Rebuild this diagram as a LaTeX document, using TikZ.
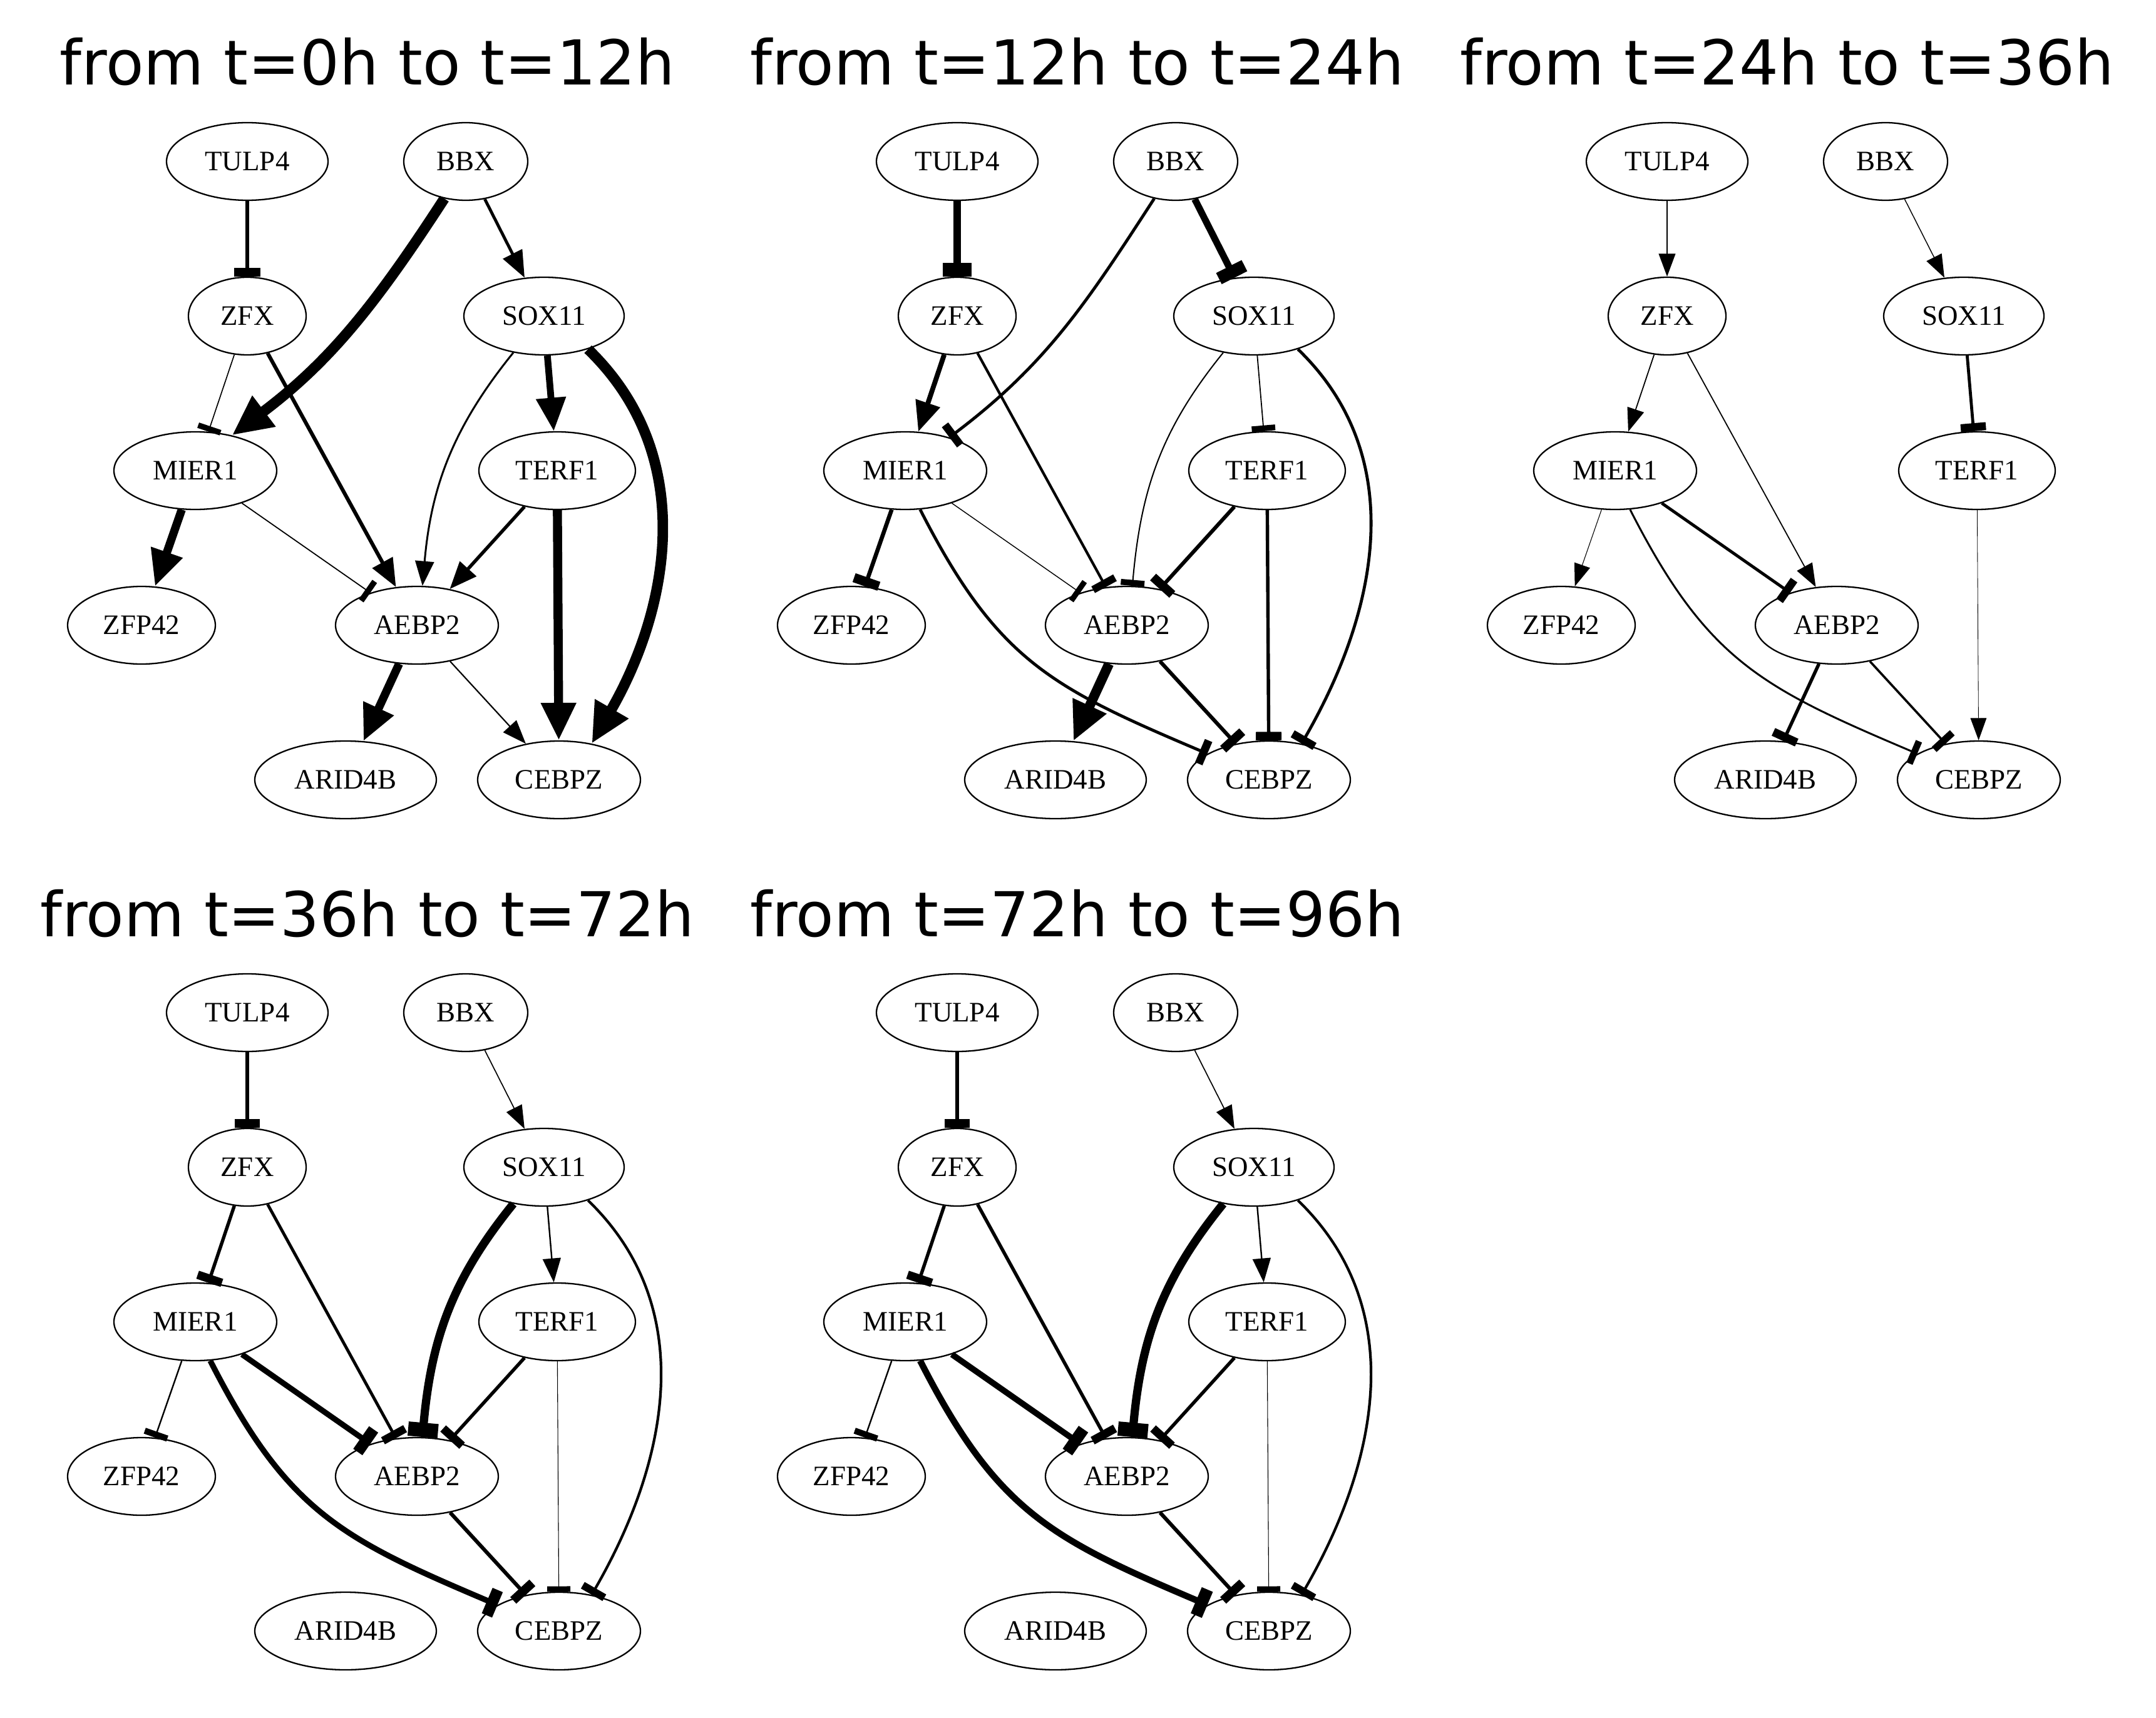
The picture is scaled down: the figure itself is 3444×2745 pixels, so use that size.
\documentclass[tikz,border=0pt]{standalone}
\usepackage{fontspec}
\setmainfont{Liberation Serif}
\newfontfamily\titlefont{DejaVu Sans}
\usetikzlibrary{shapes.geometric,arrows.meta}
\tikzset{
  gn/.style={ellipse, draw, line width=1.15pt, inner sep=0pt, minimum height=62pt,
             font=\fontsize{22.5pt}{24pt}\selectfont},
  ttl/.style={anchor=base, inner sep=0pt, font=\titlefont\fontsize{49.5pt}{56pt}\selectfont},
  actv/.style={line width=#1*0.6pt, -{Triangle[length=17pt 1.8, width=12pt 2]}},
  inhb/.style={line width=#1*0.6pt, -{Rectangle[length=3.5pt 1.2, width=18pt 0.9]}},
  mc/.style={looseness=1.15},
}
\newcommand\gpanel[3]{%
\begin{scope}[shift={(#2,#3)}]
\node[gn,minimum width=129pt] (#1tu) at (395,-258) {TULP4};
\node[gn,minimum width=99pt]  (#1bb) at (744,-258) {BBX};
\node[gn,minimum width=94pt]  (#1zf) at (395,-505) {ZFX};
\node[gn,minimum width=128pt] (#1so) at (869,-505) {SOX11};
\node[gn,minimum width=130pt] (#1mi) at (312,-752) {MIER1};
\node[gn,minimum width=125pt] (#1te) at (890,-752) {TERF1};
\node[gn,minimum width=118pt] (#1zp) at (226,-999) {ZFP42};
\node[gn,minimum width=130pt] (#1ae) at (666,-999) {AEBP2};
\node[gn,minimum width=145pt] (#1ar) at (552,-1246) {ARID4B};
\node[gn,minimum width=130pt] (#1ce) at (893,-1246) {CEBPZ};
\end{scope}}
\begin{document}
\begin{tikzpicture}[x=0.5pt,y=0.5pt]
\fill[white] (0,0) rectangle (3444,-2745);
\useasboundingbox (0,0) rectangle (3444,-2745);

% titles
\node[ttl] (t1) at (587,-136) {from t=0h to t=12h};
\node[ttl] (t2) at (1721,-136) {from t=12h to t=24h};
\node[ttl] (t3) at (2855,-136) {from t=24h to t=36h};
\node[ttl] (t4) at (587,-1496) {from t=36h to t=72h};
\node[ttl] (t5) at (1721,-1496) {from t=72h to t=96h};

% nodes
\gpanel{a}{0}{0}
\gpanel{b}{1134}{0}
\gpanel{c}{2268}{0}
\gpanel{d}{0}{-1360}
\gpanel{e}{1134}{-1360}

% panel 1: 0h -> 12h
\draw[inhb=5] (atu) -- (azf);
\draw[actv=14] (abb.240) to[out=237,in=37] (ami.44);
\draw[actv=4] (abb) -- (aso);
\draw[inhb=1.4] (azf) -- (ami);
\draw[actv=5] (azf) -- (aae);
\draw[actv=2.5] (aso.230) to[out=231,in=85] (aae.82);
\draw[actv=9] (aso) -- (ate);
\draw[actv=14] (aso.323) to[out=316,in=60] (ace.48);
\draw[actv=11] (ami) -- (azp);
\draw[inhb=1.5] (ami) -- (aae);
\draw[actv=4.5] (ate) -- (aae);
\draw[actv=12] (ate) -- (ace);
\draw[actv=11] (aae) -- (aar);
\draw[actv=1.8] (aae) -- (ace);

% panel 2: 12h -> 24h
\draw[inhb=10] (btu) -- (bzf);
\draw[inhb=4] (bbb.240) to[out=237,in=37] (bmi.37);
\draw[inhb=9] (bbb) -- (bso);
\draw[actv=6.5] (bzf) -- (bmi);
\draw[inhb=3.5] (bzf) -- (bae);
\draw[inhb=1.7] (bso.230) to[out=231,in=85] (bae.82);
\draw[inhb=1.5] (bso) -- (bte);
\draw[inhb=4] (bso.323) to[out=316,in=60] (bce.48);
\draw[inhb=5.5] (bmi) -- (bzp);
\draw[inhb=1.2] (bmi) -- (bae);
\draw[inhb=4,mc] (bmi.291) to[out=297,in=157] (bce.157);
\draw[inhb=5] (bte) -- (bae);
\draw[inhb=4.5] (bte) -- (bce);
\draw[actv=13] (bae) -- (bar);
\draw[inhb=5] (bae) -- (bce);

% panel 3: 24h -> 36h
\draw[actv=1.2] (ctu) -- (czf);
\draw[actv=1.2] (cbb) -- (cso);
\draw[actv=1.5] (czf) -- (cmi);
\draw[actv=1.5] (czf) -- (cae);
\draw[inhb=4] (cso) -- (cte);
\draw[actv=0.9] (cmi) -- (czp);
\draw[inhb=4] (cmi) -- (cae);
\draw[inhb=2.5,mc] (cmi.291) to[out=297,in=157] (cce.157);
\draw[actv=0.7] (cte) -- (cce);
\draw[inhb=4.5] (cae) -- (car);
\draw[inhb=3] (cae) -- (cce);

% panel 4: 36h -> 72h
\draw[inhb=4.5] (dtu) -- (dzf);
\draw[actv=1.4] (dbb) -- (dso);
\draw[inhb=4.5] (dzf) -- (dmi);
\draw[inhb=4] (dzf) -- (dae);
\draw[inhb=11] (dso.230) to[out=231,in=85] (dae.82);
\draw[actv=2] (dso) -- (dte);
\draw[inhb=3.5] (dso.323) to[out=316,in=60] (dce.48);
\draw[inhb=2] (dmi) -- (dzp);
\draw[inhb=7.5] (dmi) -- (dae);
\draw[inhb=7.5,mc] (dmi.291) to[out=297,in=157] (dce.157);
\draw[inhb=4.5] (dte) -- (dae);
\draw[inhb=0.9] (dte) -- (dce);
\draw[inhb=5] (dae) -- (dce);

% panel 5: 72h -> 96h
\draw[inhb=4.5] (etu) -- (ezf);
\draw[actv=1.4] (ebb) -- (eso);
\draw[inhb=4.5] (ezf) -- (emi);
\draw[inhb=4.5] (ezf) -- (eae);
\draw[inhb=11] (eso.230) to[out=231,in=85] (eae.82);
\draw[actv=2] (eso) -- (ete);
\draw[inhb=3.5] (eso.323) to[out=316,in=60] (ece.48);
\draw[inhb=2] (emi) -- (ezp);
\draw[inhb=8] (emi) -- (eae);
\draw[inhb=8.5,mc] (emi.291) to[out=297,in=157] (ece.157);
\draw[inhb=4.5] (ete) -- (eae);
\draw[inhb=0.9] (ete) -- (ece);
\draw[inhb=5] (eae) -- (ece);
\end{tikzpicture}
\end{document}
